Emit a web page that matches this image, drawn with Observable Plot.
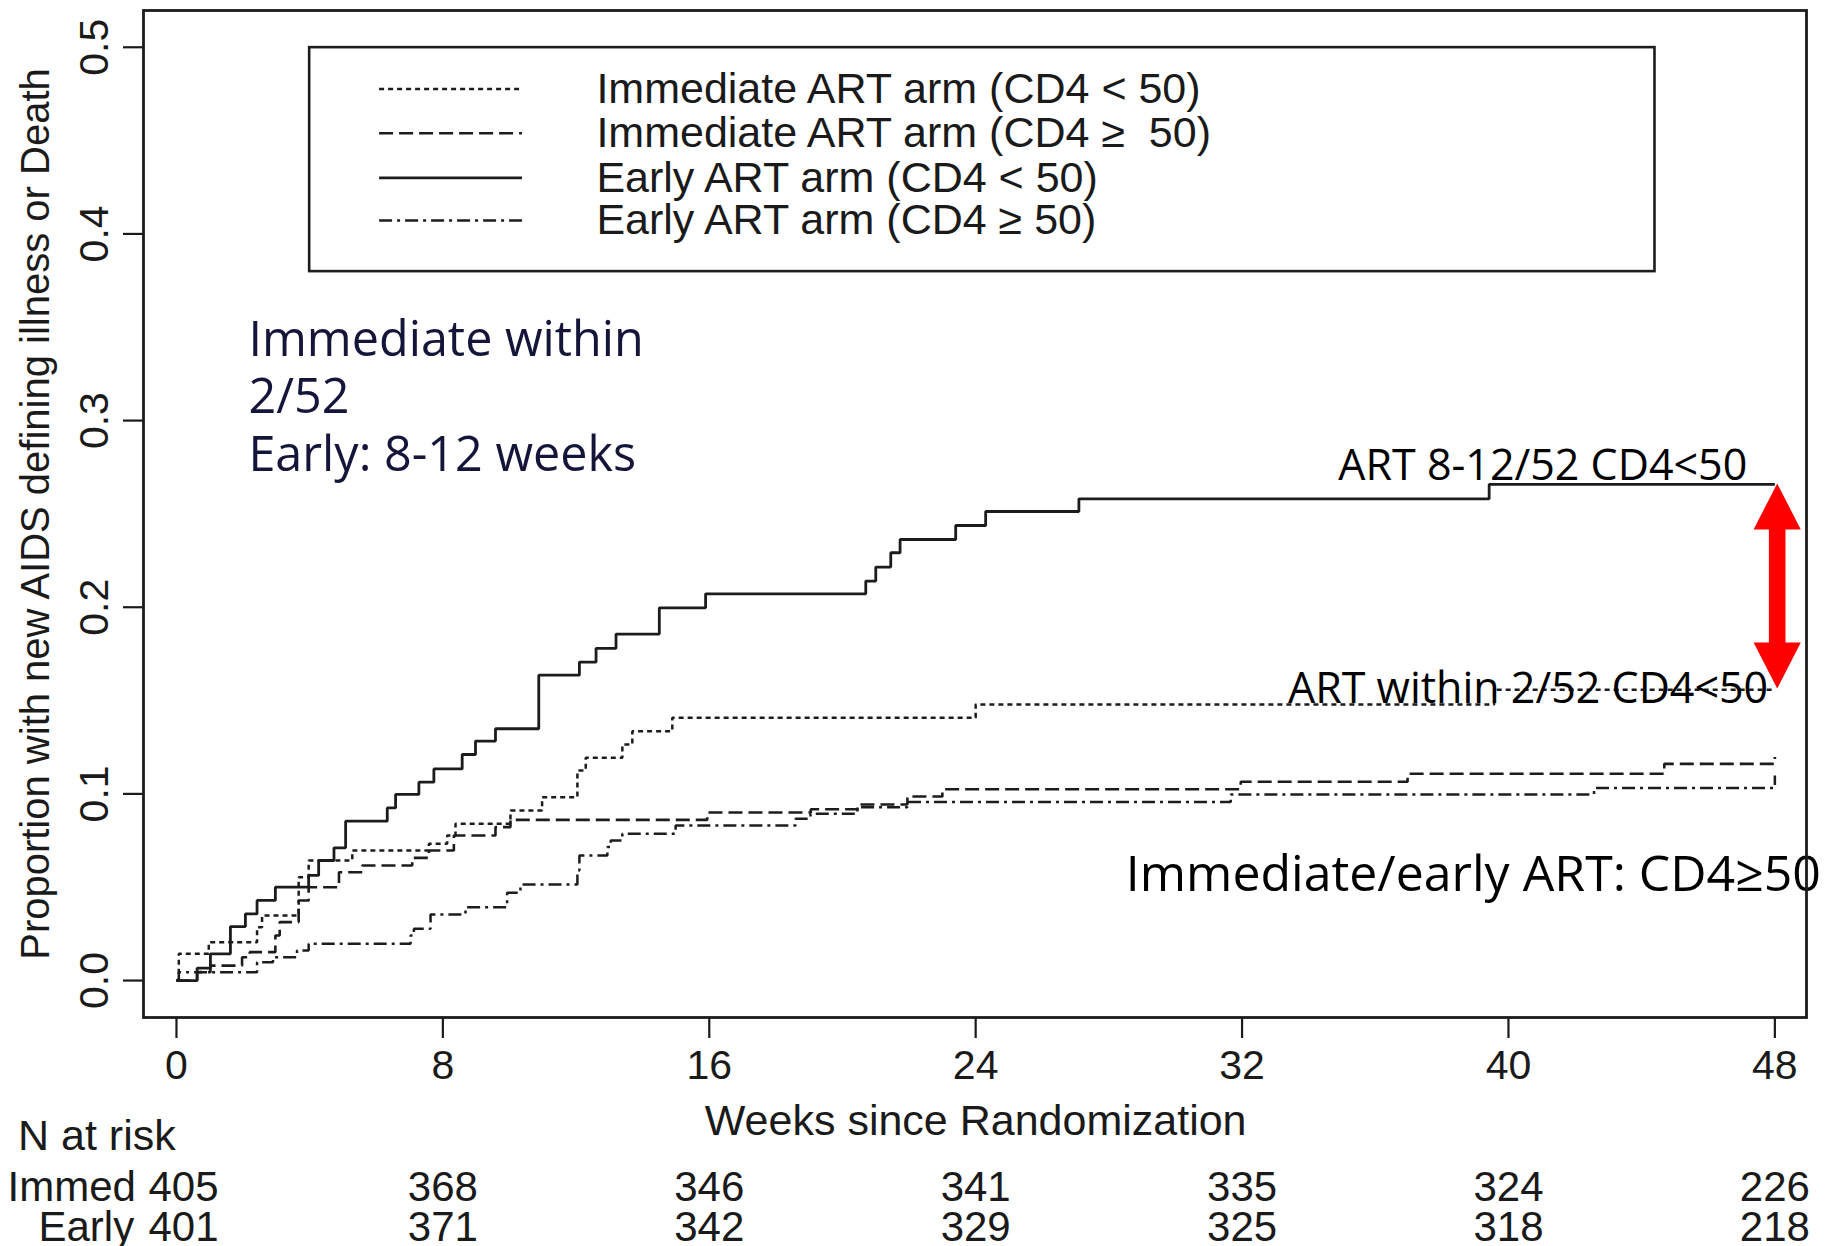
<!DOCTYPE html>
<html>
<head>
<meta charset="utf-8">
<script src="https://cdn.jsdelivr.net/npm/d3@7"></script>
<script src="https://cdn.jsdelivr.net/npm/@observablehq/plot@0.6"></script>
<style>
  html, body { margin: 0; padding: 0; background: #ffffff; }
  #chart svg { display: block; }
</style>
</head>
<body>
<div id="chart"></div>
<script>
// ---------------- data ----------------
const seriesNames = [
  "Immediate ART arm (CD4 < 50)",
  "Immediate ART arm (CD4 \u2265\u00a0 50)",
  "Early ART arm (CD4 < 50)",
  "Early ART arm (CD4 \u2265 50)"
];

// Immediate ART arm, CD4 < 50 (dotted)
const immedLowWeeks  = [0, 0.07, 0.97, 2.42, 2.57, 3.67, 3.97, 5.28, 7.58, 8.13, 8.38, 10.03, 10.98, 12.04, 12.29, 13.39, 13.69, 14.89, 24.0, 39.57, 48];
const immedLowValues = [0, 0.0143, 0.0205, 0.0286, 0.0348, 0.0554, 0.0643, 0.0697, 0.0733, 0.0777, 0.0840, 0.0911, 0.0982, 0.1125, 0.1193, 0.1265, 0.1336, 0.1408, 0.1479, 0.1558, 0.1558];

// Immediate ART arm, CD4 >= 50 (dashed)
const immedHighWeeks  = [0, 0.62, 1.02, 1.97, 2.2, 2.97, 3.1, 3.67, 3.97, 4.88, 5.58, 7.08, 7.58, 8.33, 9.58, 10.03, 15.94, 19.05, 20.45, 21.95, 23.0, 31.96, 36.97, 44.68, 48];
const immedHighValues = [0, 0.0045, 0.008, 0.0125, 0.0152, 0.0241, 0.0313, 0.0429, 0.0500, 0.0580, 0.0616, 0.0657, 0.0697, 0.0777, 0.0822, 0.0861, 0.0900, 0.0918, 0.0943, 0.0986, 0.1025, 0.1065, 0.1108, 0.1161, 0.1197];

// Early ART arm, CD4 < 50 (solid)
const earlyLowWeeks  = [0, 0.62, 1.02, 1.62, 2.07, 2.42, 2.97, 3.97, 4.27, 4.73, 5.08, 6.33, 6.58, 7.28, 7.73, 8.58, 8.98, 9.58, 10.88, 12.1, 12.6, 13.2, 14.5, 15.89, 20.7, 21.0, 21.45, 21.73, 23.4, 24.3, 27.1, 39.42, 48];
const earlyLowValues = [0, 0.0066, 0.0143, 0.0289, 0.0357, 0.0429, 0.0500, 0.0563, 0.0643, 0.0711, 0.0854, 0.0925, 0.0997, 0.1063, 0.1134, 0.1211, 0.1283, 0.1349, 0.1636, 0.1706, 0.1780, 0.1856, 0.1997, 0.2072, 0.2140, 0.2215, 0.2292, 0.2363, 0.2438, 0.2513, 0.2581, 0.2658, 0.2658];

// Early ART arm, CD4 >= 50 (dot-dash)
const earlyHighWeeks  = [0, 0.07, 2.42, 2.9, 3.62, 3.97, 7.03, 7.13, 7.63, 8.68, 9.93, 10.33, 12.04, 12.1, 12.94, 13.04, 13.39, 14.99, 18.59, 19.04, 20.45, 21.95, 31.66, 42.57, 48];
const earlyHighValues = [0, 0.0045, 0.0098, 0.0125, 0.0161, 0.0197, 0.0241, 0.0277, 0.0354, 0.0393, 0.0470, 0.0514, 0.0590, 0.0670, 0.0715, 0.0750, 0.0786, 0.0831, 0.0867, 0.0893, 0.0929, 0.0956, 0.0997, 0.1031, 0.1099];

const xTicks = [0, 8, 16, 24, 32, 40, 48];
const yTicks = [0, 0.1, 0.2, 0.3, 0.4, 0.5];

const riskRowLabels = ["Immed", "Early"];
const riskImmed = [405, 368, 346, 341, 335, 324, 226];
const riskEarly = [401, 371, 342, 329, 325, 318, 218];

const annotLeft = ["Immediate within", "2/52", "Early: 8-12 weeks"];
const annotTop = "ART 8-12/52 CD4<50";
const annotMid = "ART within 2/52 CD4<50";
const annotLow = "Immediate/early ART: CD4\u226550";

// ---------------- build ----------------
const series = [
  {name: seriesNames[0], weeks: immedLowWeeks,  values: immedLowValues},
  {name: seriesNames[1], weeks: immedHighWeeks, values: immedHighValues},
  {name: seriesNames[2], weeks: earlyLowWeeks,  values: earlyLowValues},
  {name: seriesNames[3], weeks: earlyHighWeeks, values: earlyHighValues}
].map(s => ({...s, rows: s.weeks.map((w, i) => ({week: w, value: s.values[i]}))}));

// styles (kept apart from data)
const lineColor = "#1c1c1c";
const dashes = ["5,4", "14,6", null, "13,5,3,5"];
const widths = [2.5, 2.6, 2.8, 2.5];

// layout helpers (pixel sizes -> data units)
const xDomain = [-0.99, 48.95];
const yDomain = [-0.0198, 0.5197];
const W = 1829, H = 1246;
const mL = 143, mR = 23, mT = 10, mB = 229;
const pxPerWeek = (W - mL - mR) / (xDomain[1] - xDomain[0]);
const pxPerUnit = (H - mT - mB) / (yDomain[1] - yDomain[0]);

// legend geometry (data units)
const legendBox = {x1: 4.0, x2: 44.4, y1: 0.3798, y2: 0.4998};
const legendRowY = [0.4777, 0.4539, 0.4300, 0.4072];
const legendSample = {x1: 6.1, x2: 10.39};
const legendTextX = 12.61;

// double-headed arrow between end of solid and end of dotted curves
const arrowX = 48.07;
const arrowTop = earlyLowValues[earlyLowValues.length - 1] + 0.0005;
const arrowBot = immedLowValues[immedLowValues.length - 1] + 0.0006;
const headHalf = 23.6 / pxPerWeek, shaftHalf = 8.3 / pxPerWeek, headLen = 46 / pxPerUnit;
const arrowPts = [
  [arrowX, arrowTop],
  [arrowX + headHalf, arrowTop - headLen],
  [arrowX + shaftHalf, arrowTop - headLen],
  [arrowX + shaftHalf, arrowBot + headLen],
  [arrowX + headHalf, arrowBot + headLen],
  [arrowX, arrowBot],
  [arrowX - headHalf, arrowBot + headLen],
  [arrowX - shaftHalf, arrowBot + headLen],
  [arrowX - shaftHalf, arrowTop - headLen],
  [arrowX - headHalf, arrowTop - headLen]
];

const axisFont = 41;
const labelFont = 43;
const riskFont = 42;
const annotFamily = "'Open Sans', 'Lato', sans-serif";
const navy = "#15153a";

const riskIdx = xTicks.map((d, i) => i);

const marks = [
  // curves
  ...series.map((s, i) => Plot.line(s.rows, {
    x: "week", y: "value", curve: "step-after",
    stroke: lineColor, strokeWidth: widths[i],
    strokeDasharray: dashes[i] || undefined, strokeLinecap: "butt", strokeLinejoin: "miter"
  })),

  // legend box
  Plot.rect([legendBox], {x1: "x1", x2: "x2", y1: "y1", y2: "y2", fill: "none", stroke: lineColor, strokeWidth: 2.6}),
  ...series.map((s, i) => Plot.ruleY([legendRowY[i]], {
    x1: legendSample.x1, x2: legendSample.x2, stroke: lineColor, strokeWidth: widths[i],
    strokeDasharray: dashes[i] || undefined, strokeLinecap: "butt"
  })),
  Plot.text(seriesNames, {
    x: legendTextX, y: (d, i) => legendRowY[i], text: d => d,
    textAnchor: "start", lineAnchor: "middle", fontSize: labelFont, fill: "#1a1a1a"
  }),

  // annotations
  Plot.text(annotLeft, {
    x: 2.16, y: (d, i) => [0.3348, 0.3039, 0.2729][i], text: d => d,
    textAnchor: "start", lineAnchor: "bottom", fontSize: 48.5, fontFamily: annotFamily, fill: navy
  }),
  Plot.text([annotTop], {x: 47.17, y: 0.2684, text: d => d, textAnchor: "end", lineAnchor: "bottom",
    fontSize: 43, fontFamily: annotFamily, fill: "#000"}),
  Plot.text([annotMid], {x: 47.80, y: 0.1489, text: d => d, textAnchor: "end", lineAnchor: "bottom",
    fontSize: 43, fontFamily: annotFamily, fill: "#000"}),
  Plot.text([annotLow], {x: 28.51, y: 0.0482, text: d => d, textAnchor: "start", lineAnchor: "bottom",
    fontSize: 50, fontFamily: annotFamily, fill: "#000"}),

  // red arrow
  Plot.line(arrowPts, {x: d => d[0], y: d => d[1], curve: "linear-closed", fill: "#ff0000", stroke: "none"}),

  // frame and axes
  Plot.frame({stroke: lineColor, strokeWidth: 2.8}),
  Plot.axisX({ticks: xTicks, tickSize: 21, tickPadding: 11, fontSize: axisFont, strokeWidth: 2.2, label: null}),
  Plot.axisY({ticks: yTicks, tickSize: 20, tickPadding: 16, tickRotate: -90, tickFormat: d3.format(".1f"),
    fontSize: axisFont, strokeWidth: 2.2, label: null}),

  // axis titles
  Plot.text(["Proportion with new AIDS defining illness or Death"], {
    frameAnchor: "left", dx: -95, rotate: -90, text: d => d, lineAnchor: "bottom", textAnchor: "middle", fontSize: 40
  }),
  Plot.text(["Weeks since Randomization"], {
    x: 24, frameAnchor: "bottom", dy: 117, text: d => d, lineAnchor: "bottom", fontSize: labelFont
  }),

  // numbers at risk
  Plot.text(["N at risk"], {frameAnchor: "bottom-left", dx: -125.5, dy: 132, text: d => d,
    textAnchor: "start", lineAnchor: "bottom", fontSize: labelFont}),
  Plot.text([riskRowLabels[0]], {frameAnchor: "bottom-left", dx: -136, dy: 183, text: d => d,
    textAnchor: "start", lineAnchor: "bottom", fontSize: riskFont}),
  Plot.text([riskRowLabels[1]], {frameAnchor: "bottom-left", dx: -105, dy: 223, text: d => d,
    textAnchor: "start", lineAnchor: "bottom", fontSize: riskFont}),
  // first column sits slightly right of its tick, as in the reference
  Plot.text(riskIdx.slice(0, 1), {x: i => xTicks[i], frameAnchor: "bottom", dx: 7, dy: 183, text: i => String(riskImmed[i]),
    lineAnchor: "bottom", fontSize: riskFont}),
  Plot.text(riskIdx.slice(1), {x: i => xTicks[i], frameAnchor: "bottom", dy: 183, text: i => String(riskImmed[i]),
    lineAnchor: "bottom", fontSize: riskFont}),
  Plot.text(riskIdx.slice(0, 1), {x: i => xTicks[i], frameAnchor: "bottom", dx: 7, dy: 223, text: i => String(riskEarly[i]),
    lineAnchor: "bottom", fontSize: riskFont}),
  Plot.text(riskIdx.slice(1), {x: i => xTicks[i], frameAnchor: "bottom", dy: 223, text: i => String(riskEarly[i]),
    lineAnchor: "bottom", fontSize: riskFont})
];

const chart = Plot.plot({
  width: W, height: H,
  marginLeft: mL, marginRight: mR, marginTop: mT, marginBottom: mB,
  x: {domain: xDomain},
  y: {domain: yDomain},
  style: {background: "#ffffff", color: "#1a1a1a", fontFamily: "'Liberation Sans', Arial, Helvetica, sans-serif", overflow: "visible"},
  marks
});
document.getElementById("chart").appendChild(chart);
</script>
</body>
</html>
